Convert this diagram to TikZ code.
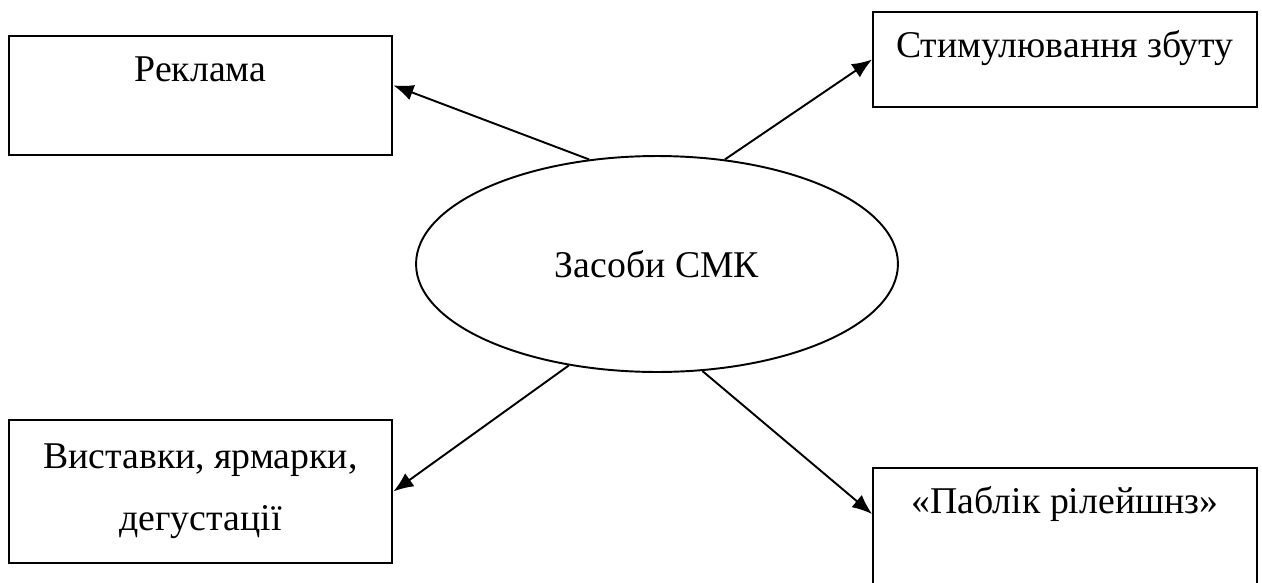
\documentclass[tikz,border=0pt]{standalone}
\usepackage{fontspec}
\setmainfont{Liberation Serif}
\usetikzlibrary{shapes.geometric,arrows.meta}

\begin{document}
\begin{tikzpicture}[x=0.02cm, y=-0.02cm,
  font=\fontsize{21.5}{35.3}\selectfont,
  line width=1.1pt,
  >={Latex[length=4mm,width=3.2mm]},
  box/.style={draw, rectangle, inner sep=0pt, minimum width=7.68cm},
  topbox/.style={box, text height=0.9cm, text depth=1.48cm},
  oval/.style={draw, ellipse, inner sep=0pt, minimum width=9.64cm, minimum height=4.32cm}]

\clip (0, 0) rectangle (1262, 582);

\node[oval] (smc) at (657, 264) {Засоби СМК};

\node[topbox] (rek) at (200.5, 95.5) {Реклама};
\node[box, text height=0.9cm, text depth=1.0cm] (stim) at (1065, 59.5) {Стимулювання збуту};
\node[box, align=center, minimum height=2.86cm] (vys) at (200.5, 491.5) {Виставки, ярмарки,\\дегустації};
\node[topbox] (pab) at (1065, 527.5) {«Паблік рілейшнз»};

\draw[->] (smc.123) -- (rek.3);
\draw[->] (smc.57) -- (stim.west);
\draw[->] (smc.229) -- (vys.east);
\draw[->] (smc.293) -- (pab.176);

\end{tikzpicture}
\end{document}
